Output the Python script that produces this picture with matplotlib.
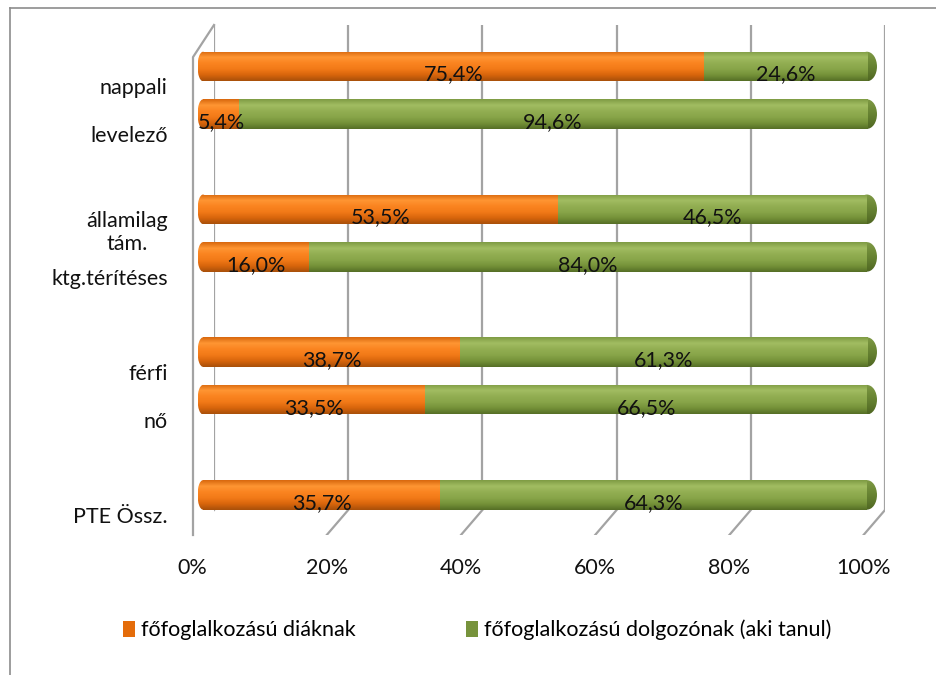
import numpy as np
import matplotlib
matplotlib.use("Agg")
import matplotlib.pyplot as plt
from matplotlib.colors import LinearSegmentedColormap
from matplotlib.patches import Ellipse, Patch
from matplotlib.lines import Line2D
from matplotlib.transforms import ScaledTranslation

plt.rcParams['font.family'] = ['Lato', 'DejaVu Sans']

# adatok
categories = ['nappali', 'levelező', 'államilag\ntám.', 'ktg.térítéses', 'férfi', 'nő', 'PTE Össz.']
diak = [75.4, 5.4, 53.5, 16.0, 38.7, 33.5, 35.7]
dolgozo = [24.6, 94.6, 46.5, 84.0, 61.3, 66.5, 64.3]
series_names = ['főfoglalkozású diáknak', 'főfoglalkozású dolgozónak (aki tanul)']
xticks = [0, 20, 40, 60, 80, 100]
xtick_labels = ['0%', '20%', '40%', '60%', '80%', '100%']
positions = [0, 1, 3, 4, 6, 7, 9]

W, H = 936, 675
FS = 15.5
fig = plt.figure(figsize=(W / 100, H / 100), dpi=100)

orange_cm = LinearSegmentedColormap.from_list('o', ['#d8680e', '#ff9633', '#fa8420', '#f27a18', '#d8650c', '#a9500a'])
green_cm = LinearSegmentedColormap.from_list('g', ['#7f9c44', '#a2bd62', '#92ae52', '#88a549', '#759239', '#566f26'])
gcap_cm = LinearSegmentedColormap.from_list('gc', ['#7f9a45', '#6e8a37', '#5f7a2d', '#4f6622'])
grad = np.linspace(0, 1, 64).reshape(-1, 1)

def px(x, y):
    return x / W, 1 - y / H

# hátsó fal + padló rácsvonalak
axb = fig.add_axes([214 / W, 1 - 535 / H, 671 / W, 510 / H])
axb.set_xlim(0, 100)
axb.set_ylim(0, 1)
axb.axis('off')
floor = 25 / 510
gcol = '#a3a3a3'
axb.vlines(xticks, floor, 1, color=gcol, lw=1.6)
for v in xticks:
    axb.plot([v, v - 3.2], [floor, 0], color=gcol, lw=1.6)
axb.plot([0, -3.13, -3.13], [1, 0.937, 0], color=gcol, lw=1.6, clip_on=False)
for v, lab in zip(xticks, xtick_labels):
    axb.text(v - 3.2, -0.045, lab, ha='center', va='top', fontsize=FS, color='#111111')

# sávok
ax = fig.add_axes([183.1 / W, 1 - 535 / H, 703.8 / W, 510 / H])
ax.patch.set_alpha(0)
h = 0.62
bars1 = ax.barh(positions, diak, height=h, color='none', zorder=3)
bars2 = ax.barh(positions, dolgozo, left=diak, height=h, color='none', zorder=3)

def shade(patch, cm, z, ext):
    im = ax.imshow(grad, cmap=cm, extent=ext, aspect='auto',
                   origin='upper', zorder=z, interpolation='bilinear')
    im.set_clip_path(patch)

for b in list(bars1) + list(bars2):
    x0, y0 = b.get_x(), b.get_y()
    cm = orange_cm if b in bars1 else green_cm
    shade(b, cm, 3, (x0, x0 + b.get_width(), y0 + h, y0))

unit = 100 / 664  # egy pixel adategységben
for p in positions:
    lw_ = 11 * unit
    lc = Ellipse((0, p), lw_, h, facecolor='none', edgecolor='none')
    ax.add_patch(lc)
    shade(lc, orange_cm, 2, (-lw_ / 2, lw_ / 2, p + h / 2, p - h / 2))
    rw = 20 * unit
    rc = Ellipse((100, p), rw, h, facecolor='none', edgecolor='none')
    ax.add_patch(rc)
    shade(rc, gcap_cm, 2, (100 - rw / 2, 100 + rw / 2, p + h / 2, p - h / 2))

def fmt(v):
    return f'{v:.1f}%'.replace('.', ',')

for p, a, b in zip(positions, diak, dolgozo):
    ax.text(a / 2, p + 0.17, fmt(a), ha='center', va='center', fontsize=FS, color='#111111', zorder=6)
    ax.text(a + b / 2, p + 0.17, fmt(b), ha='center', va='center', fontsize=FS, color='#111111', zorder=6)

ax.set_xlim(-3, 103)
ax.set_ylim((535 - 66.5) / 47.6, (25 - 66.5) / 47.6)
ax.set_xticks([])
ax.set_yticks(positions, categories, fontsize=FS, color='#111111')
ax.tick_params(axis='y', length=0, pad=11)
for lab in ax.get_yticklabels():
    lab.set_multialignment('center')
    lab.set_transform(lab.get_transform() + ScaledTranslation(0, -0.20, fig.dpi_scale_trans))
for s in ax.spines.values():
    s.set_visible(False)

# keret
fig.add_artist(Line2D([10 / W, 10 / W], [0, 1 - 8 / H], color='#8c8c8c', lw=1.2, transform=fig.transFigure))
fig.add_artist(Line2D([10 / W, 1], [1 - 8 / H, 1 - 8 / H], color='#8c8c8c', lw=1.2, transform=fig.transFigure))

handles = [Patch(facecolor='#e46c0a'), Patch(facecolor='#77933c')]
fig.legend(handles, series_names, ncol=2, loc='center left', bbox_to_anchor=px(123, 630),
           frameon=False, fontsize=FS, handlelength=0.55, handleheight=0.75, handletextpad=0.3,
           columnspacing=5.1, borderaxespad=0, borderpad=0)

fig.savefig('out.png', dpi=100)
